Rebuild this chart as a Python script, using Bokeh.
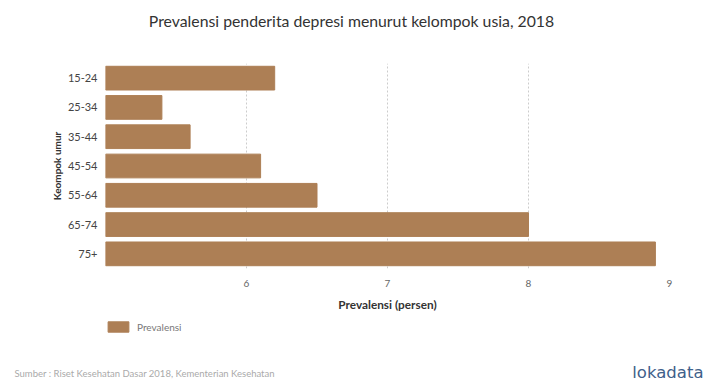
from bokeh.plotting import figure
from bokeh.models import FixedTicker, Range1d, FactorRange, Legend, LegendItem
from bokeh.layouts import column, row
from bokeh.core.properties import value
from bokeh.embed import file_html
from bokeh.resources import INLINE

categories = ["15-24", "25-34", "35-44", "45-54", "55-64", "65-74", "75+"]
values = [6.2, 5.4, 5.6, 6.1, 6.5, 8.0, 8.9]
x_ticks = [6, 7, 8, 9]
series_name = "Prevalensi"
title_text = "Prevalensi penderita depresi menurut kelompok usia, 2018"
source_text = "Sumber : Riset Kesehatan Dasar 2018, Kementerian Kesehatan"
logo_text = "lokadata"

FONT = "Lato"
BAR = "#ad7f55"

W = 708
H0 = 40    # title strip
H1 = 274   # chart
H2 = 68    # legend / footer strip


def strip(height):
    f = figure(width=W, height=height, output_backend="svg", toolbar_location=None,
               x_range=Range1d(0, W), y_range=Range1d(height, 0),
               x_axis_location=None, y_axis_location=None,
               min_border_left=0, min_border_right=0, min_border_top=0,
               min_border_bottom=0)
    f.outline_line_color = None
    f.xgrid.grid_line_color = None
    f.ygrid.grid_line_color = None
    return f


# title strip
t = strip(H0)
t.text(x=[351], y=[20], text=[title_text], text_font=value(FONT),
       text_font_size="15.8px", text_color="#333333", text_align="center",
       text_baseline="middle")

# main chart
p = figure(width=W, height=H1, output_backend="svg", toolbar_location=None,
           y_range=FactorRange(*list(reversed(categories)), range_padding=0),
           x_range=Range1d(5, 9),
           min_border_left=105, min_border_right=W - 669, min_border_top=63 - H0,
           min_border_bottom=H0 + H1 - 270)
p.outline_line_color = None

p.hbar(y=categories, right=values, left=5, height=0.81, color=BAR)

p.xaxis.ticker = FixedTicker(ticks=x_ticks)
p.xaxis.axis_line_color = None
p.xaxis.major_tick_line_color = None
p.xaxis.minor_tick_line_color = None
p.xaxis.major_tick_out = 0
p.xaxis.major_tick_in = 0
p.xaxis.major_label_text_font = FONT
p.xaxis.major_label_text_font_size = "10px"
p.xaxis.major_label_text_color = "#666666"
p.xaxis.major_label_standoff = 11
p.xaxis.axis_label = "Prevalensi (persen)"
p.xaxis.axis_label_text_font = FONT
p.xaxis.axis_label_text_font_size = "11.8px"
p.xaxis.axis_label_text_font_style = "bold"
p.xaxis.axis_label_text_color = "#333333"
p.xaxis.axis_label_standoff = 7

p.yaxis.axis_line_color = None
p.yaxis.major_tick_line_color = None
p.yaxis.minor_tick_line_color = None
p.yaxis.major_tick_out = 0
p.yaxis.major_tick_in = 0
p.yaxis.major_label_text_font = FONT
p.yaxis.major_label_text_font_size = "11px"
p.yaxis.major_label_text_color = "#444444"
p.yaxis.major_label_standoff = 8
p.yaxis.axis_label = "Keompok umur"
p.yaxis.axis_label_text_font = FONT
p.yaxis.axis_label_text_font_size = "10px"
p.yaxis.axis_label_text_font_style = "bold"
p.yaxis.axis_label_text_color = "#333333"
p.yaxis.axis_label_standoff = 2

p.ygrid.grid_line_color = None
p.xgrid.grid_line_color = "#cccccc"
p.xgrid.grid_line_dash = "2 2"
p.xgrid.grid_line_width = 1

# footer strip: legend, source and logo
q = strip(H2)
swatch = q.rect(x=[-100], y=[-100], width=26, height=13, color=BAR)
lg = Legend(items=[LegendItem(label=series_name, renderers=[swatch], index=0)],
            location=(105, H2 - 19), orientation="horizontal")
lg.border_line_color = None
lg.background_fill_alpha = 0
lg.padding = 0
lg.margin = 0
lg.glyph_width = 26
lg.glyph_height = 13
lg.label_standoff = 6
lg.label_height = 13
lg.label_text_font = FONT
lg.label_text_font_size = "10px"
lg.label_text_color = "#777777"
q.add_layout(lg)

q.text(x=[14], y=[59], text=[source_text], text_font=value(FONT),
       text_font_size="9.5px", text_color="#aaaaaa", text_align="left",
       text_baseline="middle")
q.text(x=[703], y=[58], text=[logo_text], text_font=value("DejaVu Sans"),
       text_font_size="16.5px", text_color="#40608a", text_align="right",
       text_baseline="middle")

layout = column(row(t), p, row(q), spacing=0)
open("out.html", "w").write(file_html(layout, INLINE))
